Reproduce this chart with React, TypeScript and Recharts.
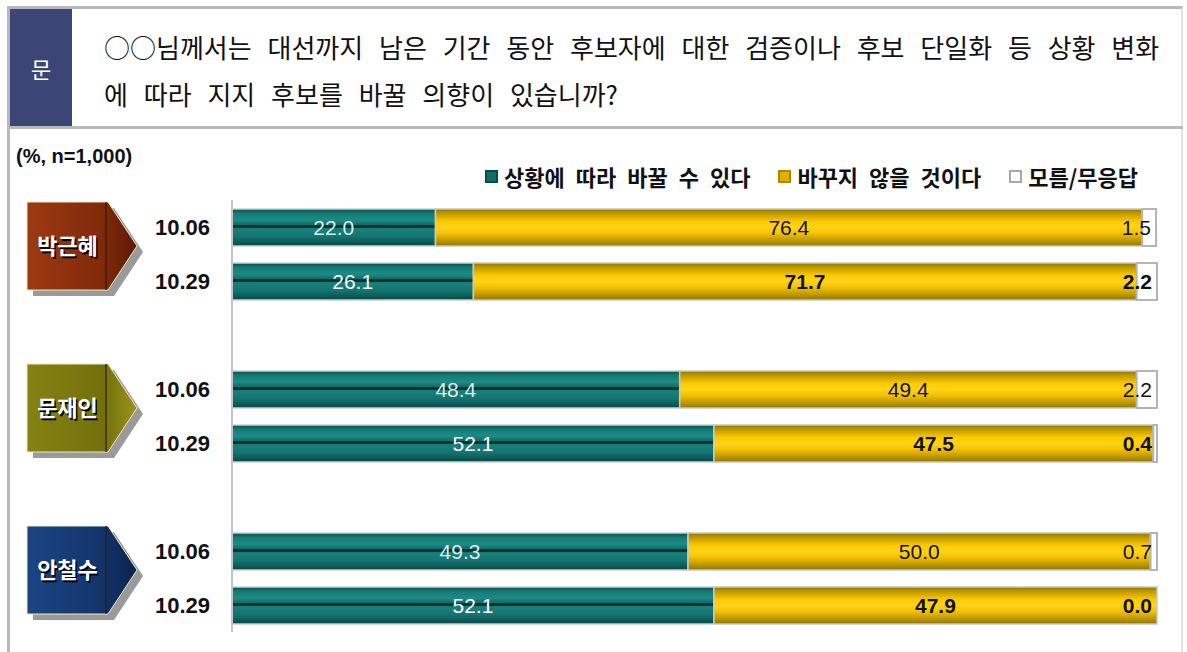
import React from 'react';
import { BarChart, Bar, XAxis, YAxis, LabelList } from 'recharts';

const rowKeys = ['p1', 'p2', 'g1', 'm1', 'm2', 'g2', 'a1', 'a2'];
const dateLabels = ['10.06', '10.29', '', '10.06', '10.29', '', '10.06', '10.29'];
const candidateNames = ['박근혜', '', '', '문재인', '', '', '안철수', ''];
const canChange = [22.0, 26.1, null, 48.4, 52.1, null, 49.3, 52.1];
const wontChange = [76.4, 71.7, null, 49.4, 47.5, null, 50.0, 47.9];
const dontKnow = [1.5, 2.2, null, 2.2, 0.4, null, 0.7, 0.0];
const boldRows = [false, true, false, false, true, false, false, true];
const seriesNames = ['상황에 따라 바꿀 수 있다', '바꾸지 않을 것이다', '모름/무응답'];
const questionLines = [
  '○○님께서는 대선까지 남은 기간 동안 후보자에 대한 검증이나 후보 단일화 등 상황 변화',
  '에 따라 지지 후보를 바꿀 의향이 있습니까?',
];

const data = rowKeys.map((k, i) => ({
  key: k,
  can: canChange[i],
  wont: wontChange[i],
  dk: dontKnow[i],
}));

const candColors: Record<string, [string, string, string]> = {
  '박근혜': ['#9c3a12', '#80290a', '#5e1a04'],
  '문재인': ['#858312', '#72700a', '#9a9420'],
  '안철수': ['#1c4584', '#12346a', '#0a2250'],
};

const NUM_FONT = '"Liberation Sans", Arial, sans-serif';
const KR_FONT = '"Noto Sans CJK KR", "Noto Sans", sans-serif';

const CustomTick = (props: any) => {
  const { x, y, payload } = props;
  const idx = rowKeys.indexOf(payload.value);
  const label = dateLabels[idx];
  const cand = candidateNames[idx];
  const cy = y + 19;
  const left = 27;
  const bodyR = 108;
  const tip = 137;
  const half = 44;
  const pts = `${left},${cy - half} ${bodyR},${cy - half} ${tip},${cy} ${bodyR},${cy + half} ${left},${cy + half}`;
  const shadowPts = `${left + 6},${cy - half + 6} ${bodyR + 6},${cy - half + 6} ${tip + 6},${cy + 6} ${bodyR + 6},${cy + half + 6} ${left + 6},${cy + half + 6}`;
  return (
    <g>
      {label && (
        <text x={x - 14} y={y} dy={8} textAnchor="end" fontFamily={NUM_FONT} fontWeight="bold" fontSize={22} fill="#111">
          {label}
        </text>
      )}
      {cand && (
        <g>
          <polygon points={shadowPts} fill="#9a9a9a" />
          <polygon points={pts} fill={`url(#cand-${idx})`} stroke="#f0e8c0" strokeWidth={1} />
          <line x1={bodyR - 2} y1={cy - half} x2={bodyR - 2} y2={cy + half} stroke="#2a1a0a" strokeWidth={1.2} />
          <text x={(left + bodyR) / 2 + 1.5} y={cy + 1.5} dy={8} textAnchor="middle" fontFamily={KR_FONT} fontWeight="bold" fontSize={22} fill="#000">
            {cand}
          </text>
          <text x={(left + bodyR) / 2} y={cy} dy={8} textAnchor="middle" fontFamily={KR_FONT} fontWeight="bold" fontSize={22} fill="#fff">
            {cand}
          </text>
        </g>
      )}
    </g>
  );
};

const canLabel = (props: any) => {
  const { x, y, width, height, value } = props;
  const idx = rowKeys.indexOf(value);
  if (idx < 0) return null;
  const v = canChange[idx];
  if (v === null || v === undefined) return null;
  const bold = boldRows[idx];
  return (
    <text x={Number(x) + Number(width) / 2} y={Number(y) + Number(height) / 2} dy={7} textAnchor="middle" fontFamily={NUM_FONT} fontSize={21} fill={bold ? '#ffffff' : '#dcecea'}>
      {v.toFixed(1)}
    </text>
  );
};

// labels for the gold segment and the "don't know" segment (positioned with the gold bar's own scale)
const wontLabel = (props: any) => {
  const { x, y, width, height, value } = props;
  const idx = rowKeys.indexOf(value);
  if (idx < 0) return null;
  const v = wontChange[idx];
  const d = dontKnow[idx];
  if (v === null || v === undefined) return null;
  const bold = boldRows[idx];
  const X = Number(x);
  const W = Number(width);
  const cyy = Number(y) + Number(height) / 2;
  const perUnit = W / v;
  const dkEnd = X + W + (d ?? 0) * perUnit;
  return (
    <g>
      <text x={X + W / 2} y={cyy} dy={7} textAnchor="middle" fontFamily={NUM_FONT} fontSize={21} fontWeight={bold ? 'bold' : 'normal'} fill="#111">
        {v.toFixed(1)}
      </text>
      {d !== null && d !== undefined && (
        <text x={dkEnd - 5} y={cyy} dy={7} textAnchor="end" fontFamily={NUM_FONT} fontSize={21} fontWeight={bold ? 'bold' : 'normal'} fill="#111">
          {d.toFixed(1)}
        </text>
      )}
    </g>
  );
};

const squareStyle = (i: number): React.CSSProperties => ({
  display: 'inline-block',
  width: 13,
  height: 13,
  marginRight: 6,
  boxSizing: 'border-box',
  background: i === 0 ? '#11706c' : i === 1 ? '#e0b000' : '#fff',
  border: i === 2 ? '2px solid #a8a8a8' : i === 0 ? '2px solid #0a4a48' : '2px solid #a88c00',
});

export default function App() {
  return (
    <div style={{ position: 'absolute', left: 0, top: 0, width: 1187, height: 652, background: '#fff', overflow: 'hidden' }}>
      {/* frame */}
      <div style={{ position: 'absolute', left: 7, top: 6, width: 1176, height: 660, borderTop: '3px solid #b9b9b9', borderLeft: '3px solid #b9b9b9', borderRight: '2px solid #e2e2e2', boxSizing: 'border-box' }} />
      <div style={{ position: 'absolute', left: 7, top: 126, width: 1176, height: 3, background: '#b9b9b9' }} />
      <div style={{ position: 'absolute', left: 10, top: 9, width: 62, height: 117, background: '#3b4677', color: '#fff', fontFamily: KR_FONT, fontSize: 22, display: 'flex', alignItems: 'center', justifyContent: 'center' }}>
        문
      </div>
      {questionLines.map((t, i) => (
        <div key={i} style={{ position: 'absolute', left: 104, top: 29 + i * 47, fontFamily: KR_FONT, fontSize: 26, lineHeight: '36px', color: '#111', whiteSpace: 'nowrap', wordSpacing: 10 }}>
          {t}
        </div>
      ))}
      <div style={{ position: 'absolute', left: 16, top: 145, fontFamily: NUM_FONT, fontWeight: 'bold', fontSize: 20, color: '#111', whiteSpace: 'nowrap' }}>
        (%, n=1,000)
      </div>
      {/* legend */}
      <div style={{ position: 'absolute', left: 485, top: 162, display: 'flex', alignItems: 'center', fontFamily: KR_FONT, fontWeight: 'bold', fontSize: 22, lineHeight: '28px', color: '#111', whiteSpace: 'nowrap', wordSpacing: 6 }}>
        {seriesNames.map((n, i) => (
          <span key={i} style={{ display: 'flex', alignItems: 'center', marginRight: i < 2 ? 28 : 0 }}>
            <span style={squareStyle(i)} />
            {n}
          </span>
        ))}
      </div>
      <div style={{ position: 'absolute', left: 0, top: 0 }}>
        <BarChart
          width={1187}
          height={652}
          data={data}
          layout="vertical"
          margin={{ top: 200, right: 30, bottom: 20, left: 0 }}
          barSize={37}
        >
          <defs>
            <linearGradient id="tealGrad" x1="0" y1="0" x2="0" y2="1">
              <stop offset="0" stopColor="#0a4a48" />
              <stop offset="0.12" stopColor="#157a75" />
              <stop offset="0.3" stopColor="#1c8c86" />
              <stop offset="0.43" stopColor="#106a66" />
              <stop offset="0.455" stopColor="#042424" />
              <stop offset="0.5" stopColor="#0a3a3a" />
              <stop offset="0.53" stopColor="#1a807b" />
              <stop offset="0.75" stopColor="#137470" />
              <stop offset="0.9" stopColor="#0c5a58" />
              <stop offset="1" stopColor="#094644" />
            </linearGradient>
            <linearGradient id="goldGrad" x1="0" y1="0" x2="0" y2="1">
              <stop offset="0" stopColor="#927a00" />
              <stop offset="0.15" stopColor="#c8a000" />
              <stop offset="0.35" stopColor="#ffcc00" />
              <stop offset="0.5" stopColor="#ffd31c" />
              <stop offset="0.65" stopColor="#f5c300" />
              <stop offset="0.85" stopColor="#c09800" />
              <stop offset="1" stopColor="#8e7800" />
            </linearGradient>
            {candidateNames.map((c, i) =>
              c ? (
                <linearGradient key={i} id={`cand-${i}`} x1="0" y1="0" x2="1" y2="0">
                  <stop offset="0" stopColor={candColors[c][0]} />
                  <stop offset="0.7" stopColor={candColors[c][1]} />
                  <stop offset="1" stopColor={candColors[c][2]} />
                </linearGradient>
              ) : null
            )}
          </defs>
          <XAxis type="number" domain={[0, 100]} hide />
          <YAxis
            type="category"
            dataKey="key"
            width={232}
            tickLine={false}
            axisLine={{ stroke: '#c4c4c4', strokeWidth: 2 }}
            tick={<CustomTick />}
            interval={0}
          />
          <Bar dataKey="can" stackId="s" fill="url(#tealGrad)" stroke="#c9d2d2" strokeWidth={1.5} isAnimationActive={false}>
            <LabelList dataKey="key" content={canLabel} />
          </Bar>
          <Bar dataKey="wont" stackId="s" fill="url(#goldGrad)" stroke="#c8c8c8" strokeWidth={1.5} isAnimationActive={false}>
            <LabelList dataKey="key" content={wontLabel} />
          </Bar>
          <Bar dataKey="dk" stackId="s" fill="#ffffff" stroke="#b4b4b4" strokeWidth={2} isAnimationActive={false} />
        </BarChart>
      </div>
    </div>
  );
}
